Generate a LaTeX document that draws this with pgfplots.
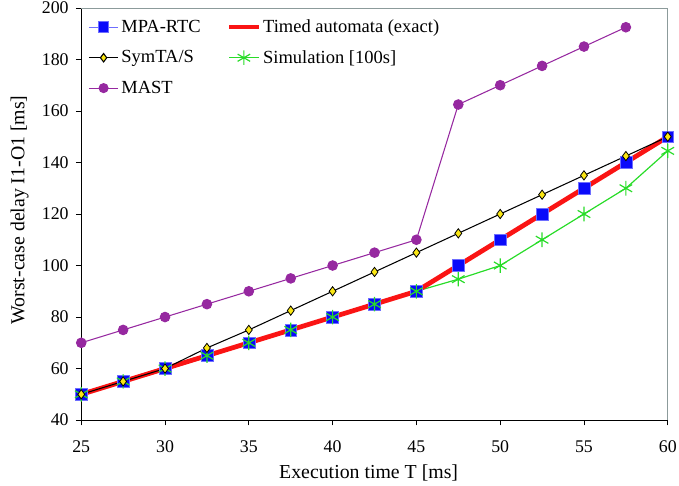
\documentclass[border=0pt]{standalone}
\usepackage{pgfplots}
\pgfplotsset{compat=1.18}
\usepackage{fontspec}
\setmainfont{Liberation Serif}
\definecolor{mpablue}{RGB}{10,10,250}
\definecolor{mpaline}{RGB}{110,110,255}
\definecolor{tared}{RGB}{250,20,20}
\definecolor{mastpurple}{RGB}{150,40,160}
\definecolor{simgreen}{RGB}{40,220,40}
\definecolor{symyellow}{RGB}{250,230,20}
\definecolor{framegray}{RGB}{140,155,155}
\pgfplotstableread{
x    mpa   sim    sym    
25   50    50     50
27.5 55    55     55
30   60    60     60
32.5 65    65     68
35   70    70     75
37.5 75    75     82.5
40   80    80     90
42.5 85    85     97.5
45   90    90     105
47.5 100   94.7   112.5
50   110   100    120
52.5 120   110    127.5
55   130   120    135
57.5 140   130    142.5
60   150   144.5  150
}\datatable
\pgfplotstableread{
x    mast
25   70
27.5 75
30   80
32.5 85
35   90
37.5 95
40   100
42.5 105
45   110
47.5 162.5
50   170
52.5 177.5
55   185
57.5 192.5
}\masttable
\begin{document}
\begin{tikzpicture}
\begin{axis}[
  name=ax,
  scale only axis,
  width=444pt, height=312pt,
  xmin=25, xmax=60, ymin=40, ymax=200,
  xtick={25,30,...,60}, ytick={40,60,...,200},
  axis x line*=bottom, axis y line*=left,
  axis line style={black, line width=0.6pt},
  tick align=outside, tick style={black, line width=0.6pt}, major tick length=4pt,
  tick label style={font=\fontsize{13.5}{15}\selectfont},
  xticklabel style={anchor=center, yshift=-16pt},
  yticklabel style={anchor=east, xshift=-2pt},
  /pgf/number format/assume math mode=true,
  xlabel={Execution time T [ms]},
  ylabel={Worst-case delay I1-O1 [ms]},
  every axis x label/.style={at={(axis description cs:0.49,0)}, yshift=-40pt, anchor=center, font=\fontsize{15}{17}\selectfont},
  every axis y label/.style={at={(axis description cs:-0.105,0.51)}, rotate=90, anchor=center, font=\fontsize{15}{17}\selectfont},
  legend columns=2,
  legend cell align=left,
  legend style={draw=none, fill=none, at={(rel axis cs:0.005,0.985)}, anchor=north west,
    font=\fontsize{14}{16}\selectfont, row sep=8pt,
    /tikz/every even column/.append style={column sep=18pt}},
  legend image post style={xscale=1.3},
  clip=false,
]
\draw[framegray, line width=0.6pt] (rel axis cs:0,1) -- (rel axis cs:1,1) -- (rel axis cs:1,0);
% MPA-RTC line
\addplot[mpaline, line width=0.8pt, forget plot] table[x=x,y=mpa] {\datatable};
% Simulation line
\addplot[simgreen, line width=0.9pt, forget plot] table[x=x,y=sim] {\datatable};
% Timed automata (exact)
\addplot[tared, line width=3.6pt, forget plot] table[x=x,y=mpa] {\datatable};
% MPA-RTC marks
\addplot[only marks, mark=square*, mark size=4.5pt, mark options={fill=mpablue, draw=mpaline, line width=0.4pt}, forget plot] table[x=x,y=mpa] {\datatable};
% Simulation marks
\addplot[only marks, simgreen, mark=asterisk, mark size=5.5pt, mark options={line width=0.9pt}, forget plot] table[x=x,y=sim] {\datatable};
% SymTA/S
\addplot[black, line width=0.8pt, mark=diamond*, mark size=3.5pt, mark options={fill=symyellow, draw=black, line width=0.6pt}, forget plot] table[x=x,y=sym] {\datatable};
% MAST
\addplot[mastpurple, line width=0.8pt, mark=*, mark size=3.6pt, mark options={fill=mastpurple, draw=mastpurple}, forget plot] table[x=x,y=mast] {\masttable};
% legend
\addlegendimage{mpaline, line width=0.8pt, mark=square*, mark size=4pt, mark options={fill=mpablue, draw=mpaline, xscale=1/1.3}}
\addlegendentry{MPA-RTC}
\addlegendimage{tared, line width=3pt}
\addlegendentry{Timed automata (exact)}
\addlegendimage{black, line width=0.8pt, mark=diamond*, mark size=3.2pt, mark options={fill=symyellow, draw=black, xscale=1/1.3}}
\addlegendentry{SymTA/S}
\addlegendimage{simgreen, line width=0.9pt, mark=asterisk, mark size=5.5pt, mark options={xscale=1/1.3}}
\addlegendentry{Simulation [100s]}
\addlegendimage{mastpurple, line width=0.8pt, mark=*, mark size=3.4pt, mark options={fill=mastpurple, xscale=1/1.3}}
\addlegendentry{MAST}
\end{axis}
\pgfresetboundingbox
\path ([shift={(-61.5pt,-49.5pt)}]ax.south west) rectangle ([shift={(8.5pt,6pt)}]ax.north east);
\end{tikzpicture}
\end{document}
